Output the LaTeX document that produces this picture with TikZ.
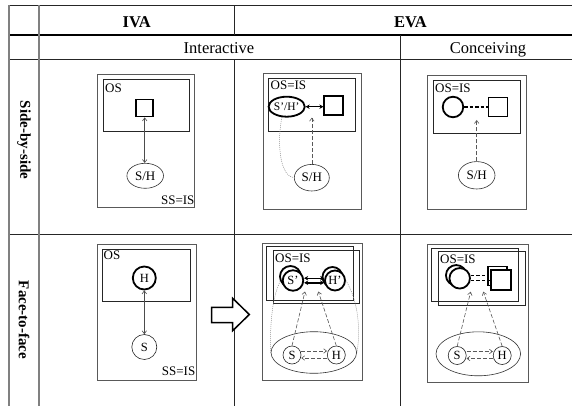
\documentclass[tikz,border=0pt]{standalone}
\usepackage{fontspec}
\setmainfont{Liberation Serif}
\usetikzlibrary{arrows.meta,shapes.geometric}
\begin{document}
\begin{tikzpicture}[x=1pt,y=-1pt,
  gridline/.style={line width=0.8pt,draw=black!85},
  gridgray/.style={line width=1.4pt,draw=black!50},
  cellbox/.style={draw=black!65,line width=0.8pt,rectangle,inner sep=0pt},
  osbox/.style={draw=black!85,line width=0.7pt,rectangle,inner sep=0pt},
  hdr/.style={font=\fontsize{16.5}{18}\selectfont,inner sep=0pt},
  hdrb/.style={font=\bfseries\fontsize{16.5}{18}\selectfont,inner sep=0pt},
  rowlbl/.style={font=\bfseries\fontsize{15}{16}\selectfont,rotate=-90,inner sep=0pt},
  lbl/.style={font=\fontsize{13}{14}\selectfont,inner sep=0pt},
  sqthick/.style={draw=black,line width=1.8pt,rectangle,inner sep=0pt},
  elthick/.style={draw=black,line width=1.8pt,ellipse,inner sep=0pt,font=\fontsize{11.5}{12}\selectfont},
  circthick/.style={draw=black,line width=1.8pt,circle,inner sep=0pt,font=\fontsize{12.5}{13}\selectfont},
  elthin/.style={draw=black!80,line width=0.6pt,ellipse,inner sep=0pt,font=\fontsize{13}{14}\selectfont},
  circthin/.style={draw=black!85,line width=0.6pt,circle,inner sep=0pt,font=\fontsize{12.5}{13}\selectfont},
  tharrow/.style={draw=black!70,line width=0.6pt,arrows={Straight Barb[length=3pt,width=4.5pt]-Straight Barb[length=3pt,width=4.5pt]}},
  dasharrow/.style={draw=black!65,line width=0.6pt,dash pattern=on 4pt off 2pt,arrows={-Straight Barb[length=3pt,width=4.5pt]}},
  dotcurve/.style={draw=black!45,line width=0.5pt,dash pattern=on 1pt off 1pt},
  bigarrow/.style={draw=black,line width=1.4pt,arrows={Stealth[length=4pt,width=4.5pt]-Stealth[length=4pt,width=4.5pt]}},
  thickdash/.style={draw=black,line width=1.6pt,dash pattern=on 3.5pt off 2pt}
]
\useasboundingbox (0,0) rectangle (572,406);
\fill[white] (0,0) rectangle (572,406);

% ---------- table grid ----------
\draw[gridline] (9,5.5) -- (572,5.5);
\draw[line width=2.5pt,black] (9,35) -- (572,35);
\draw[gridline] (9,59.5) -- (572,59.5);
\draw[gridline] (9,234) -- (572,234);
\draw[gridgray] (9,5.5) -- (9,406);
\draw[gridgray] (39,5.5) -- (39,406);
\draw[gridline] (234.7,5.5) -- (234.7,35);
\draw[gridline] (234.7,59.5) -- (234.7,406);
\draw[gridline] (400.7,35) -- (400.7,406);

% ---------- headers ----------
\node[hdrb,anchor=base] (hIVA) at (136.8,27.4) {IVA};
\node[hdrb,anchor=base] (hEVA) at (410.5,27.4) {EVA};
\node[hdr,anchor=base] (hInt) at (219,54) {Interactive};
\node[hdr,anchor=base] (hCon) at (488,54) {Conceiving};
\node[rowlbl] (rSide) at (24,140) {Side-by-side};
\node[rowlbl] (rFace) at (24,320) {Face-to-face};

% ---------- IVA side-by-side ----------
\node[cellbox,minimum width=97pt,minimum height=133.4pt] (aOut) at (145.8,141) {};
\node[osbox,minimum width=86pt,minimum height=51.3pt] (aOS) at (146.3,105.35) {};
\node[lbl,anchor=base west] (aOSl) at (105,92.5) {OS};
\node[sqthick,minimum size=17pt] (aSq) at (144.7,108) {};
\node[elthin,minimum width=36.6pt,minimum height=25pt] (aSH) at (145.2,175.8) {S/H};
\draw[tharrow] (aSq.south) -- (aSq.south |- aSH.north);
\node[lbl,anchor=base east] (aSS) at (194.6,204.5) {SS=IS};

% ---------- EVA interactive side-by-side ----------
\node[cellbox,minimum width=98.4pt,minimum height=135.7pt] (bOut) at (312.5,141.2) {};
\node[osbox,minimum width=87.4pt,minimum height=52.7pt] (bOS) at (312,104.7) {};
\node[lbl,anchor=base west] (bOSl) at (270.5,90) {OS=IS};
\node[elthick,minimum width=33.4pt,minimum height=20pt] (bSH1) at (286.7,106.7) {S'/H'};
\node[sqthick,minimum size=19pt] (bSq) at (333.8,105.3) {};
\draw[bigarrow] (bSH1.east) -- (bSq.west |- bSH1.east);
\node[elthin,minimum width=35pt,minimum height=26.6pt] (bSH) at (311.8,177.7) {S/H};
\coordinate (bTip) at (311.8,117.7);
\draw[dasharrow] (bSH.north) -- (bTip);
\draw[dotcurve] (bSH1.245) .. controls (276,150) and (282,177) .. (bSH.west);

% ---------- EVA conceiving side-by-side ----------
\node[cellbox,minimum width=98.7pt,minimum height=134pt] (cOut) at (476.65,142) {};
\node[osbox,minimum width=86.7pt,minimum height=53.3pt] (cOS) at (476.65,106.65) {};
\node[lbl,anchor=base west] (cOSl) at (435,92.5) {OS=IS};
\node[circthick,minimum size=20.5pt] (cC) at (453,107) {};
\node[draw=black,line width=1.5pt,rectangle,inner sep=0pt,minimum size=19pt] (cSq) at (497.8,107) {};
\draw[thickdash] (cC.east) -- (cSq.west);
\node[elthin,minimum width=36.6pt,minimum height=27.4pt] (cSH) at (476.7,175.3) {S/H};
\coordinate (cTip) at (476.7,120);
\draw[dasharrow] (cSH.north) -- (cTip);

% ---------- IVA face-to-face ----------
\node[cellbox,minimum width=98.7pt,minimum height=135.7pt] (dOut) at (146.65,312.15) {};
\node[osbox,minimum width=87.3pt,minimum height=52.7pt] (dOS) at (146.35,275.35) {};
\node[lbl,anchor=base west] (dOSl) at (103.5,259.5) {OS};
\node[circthick,minimum size=23pt] (dH) at (144.3,278) {H};
\node[circthin,minimum size=25pt] (dS) at (144.3,347) {S};
\draw[tharrow] (dH.south) -- (dS.north);
\node[lbl,anchor=base east] (dSS) at (195.5,375.5) {SS=IS};

% transition arrow
\draw[draw=black,line width=1.5pt,fill=white,line join=miter]
  (211.7,307.3) -- (232.7,307.3) -- (232.7,298.3) -- (249.3,314.5)
  -- (232.7,330.7) -- (232.7,322.7) -- (211.7,322.7) -- cycle;

% ---------- EVA interactive face-to-face ----------
\node[cellbox,minimum width=100pt,minimum height=137.4pt] (eOut) at (312.3,312) {};
\node[osbox,minimum width=86.6pt,minimum height=53.3pt] (eOSa) at (310,273.35) {};
\node[osbox,minimum width=85.7pt,minimum height=53.3pt] (eOSb) at (316.15,276.65) {};
\node[lbl,anchor=base west] (eOSl) at (275,262) {OS=IS};
\node[circthick,minimum size=21pt,fill=white] (eSb) at (290.5,276.5) {};
\node[circthick,minimum size=20.5pt,fill=white] (eSf) at (293,280.5) {S'};
\node[circthick,minimum size=20pt,fill=white] (eHb) at (332.5,277) {};
\node[circthick,minimum size=20pt,fill=white] (eHf) at (335,280.5) {H'};
\draw[bigarrow] ([yshift=2.3pt]eSf.east) -- ([yshift=2.3pt]eSf.east -| eHf.west);
\draw[bigarrow] ([yshift=-2.3pt]eSf.east) -- ([yshift=-2.3pt]eSf.east -| eHf.west);
\node[draw=black!80,line width=0.6pt,ellipse,inner sep=0pt,minimum width=85.6pt,minimum height=41.6pt] (eE) at (313.8,352.5) {};
\node[circthin,minimum size=18pt] (eS) at (292,355) {S};
\node[circthin,minimum size=18pt] (eH) at (336.3,355) {H};
\coordinate (eT1) at (305,291.5);
\coordinate (eT2) at (318.3,291.5);
\draw[dasharrow] (eS.north) -- (eT1);
\draw[dasharrow] (eH.north) -- (eT2);
\draw[dasharrow] ([yshift=4pt]eS.east) -- ([yshift=4pt]eH.west);
\draw[dasharrow] ([yshift=-3pt]eH.west) -- ([yshift=-3pt]eS.east);
\draw[dotcurve] (eSb.205) .. controls (271,300) and (270,330) .. (eE.west);
\draw[dotcurve] (eHf.east) .. controls (358,300) and (361,330) .. (eE.east);

% ---------- EVA conceiving face-to-face ----------
\node[cellbox,minimum width=101pt,minimum height=138.4pt] (fOut) at (477.8,313.5) {};
\node[osbox,minimum width=86.6pt,minimum height=53.4pt] (fOSa) at (475,275) {};
\node[osbox,minimum width=86.7pt,minimum height=54pt] (fOSb) at (481.65,278) {};
\node[lbl,anchor=base west] (fOSl) at (440,263.5) {OS=IS};
\node[circthick,minimum size=20.5pt,fill=white] (fCb) at (456.2,275.3) {};
\node[circthick,minimum size=20.5pt,fill=white] (fCf) at (459.7,278.3) {};
\node[sqthick,line width=1.5pt,minimum size=19pt,fill=white] (fQb) at (497.3,276) {};
\node[sqthick,line width=1.5pt,minimum size=20pt,fill=white] (fQf) at (501.2,280) {};
\draw[thickdash,line width=1.4pt] ([yshift=2.6pt]fCf.east) -- ([yshift=2.6pt]fCf.east -| fQb.west);
\draw[thickdash,line width=1.4pt] ([yshift=-2.4pt]fCf.east) -- ([yshift=-2.4pt]fCf.east -| fQf.west);
\node[draw=black!80,line width=0.6pt,ellipse,inner sep=0pt,minimum width=84.6pt,minimum height=44pt] (fE) at (478.3,353.8) {};
\node[circthin,minimum size=18pt] (fS) at (457.2,355.5) {S};
\node[circthin,minimum size=18pt] (fH) at (502.2,355.5) {H};
\coordinate (fT1) at (470.7,291.7);
\coordinate (fT2) at (483.3,291.7);
\draw[dasharrow] (fS.north) -- (fT1);
\draw[dasharrow] (fH.north) -- (fT2);
\draw[dasharrow] ([yshift=4pt]fS.east) -- ([yshift=4pt]fH.west);
\draw[dasharrow] ([yshift=-3pt]fH.west) -- ([yshift=-3pt]fS.east);
\end{tikzpicture}
\end{document}
